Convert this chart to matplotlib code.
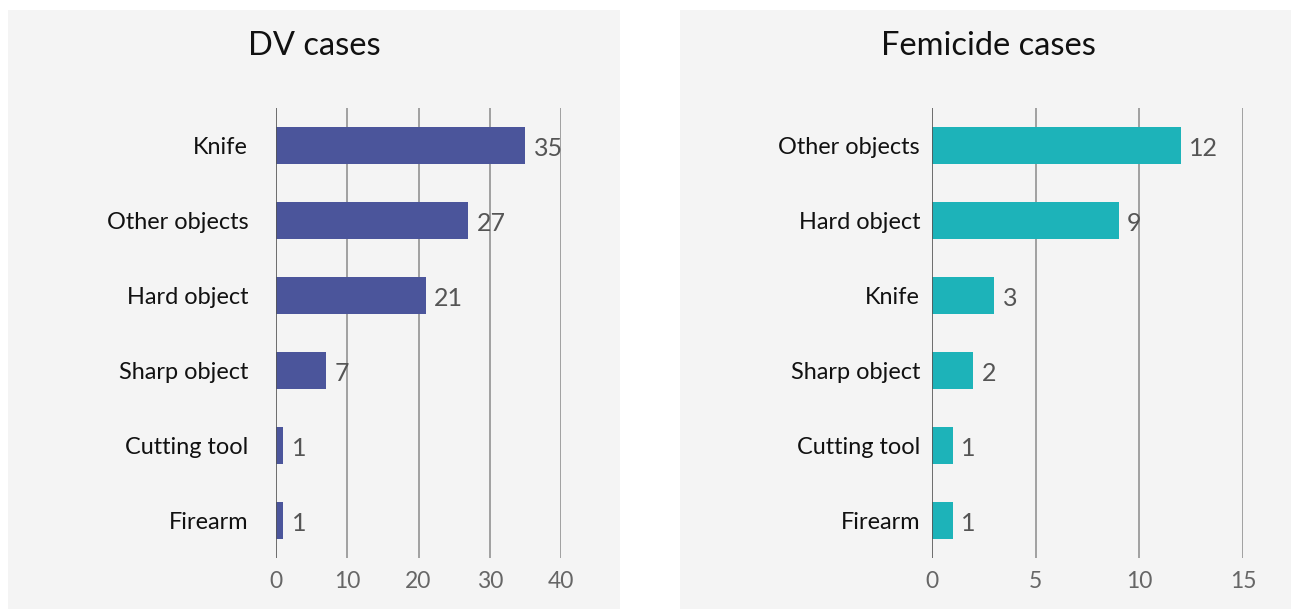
import matplotlib
matplotlib.use('Agg')
import matplotlib.pyplot as plt
from matplotlib.patches import Rectangle

# Data
dv_labels = ['Knife', 'Other objects', 'Hard object', 'Sharp object', 'Cutting tool', 'Firearm']
dv_values = [35, 27, 21, 7, 1, 1]
fem_labels = ['Other objects', 'Hard object', 'Knife', 'Sharp object', 'Cutting tool', 'Firearm']
fem_values = [12, 9, 3, 2, 1, 1]
dv_ticks = [0, 10, 20, 30, 40]
fem_ticks = [0, 5, 10, 15]

plt.rcParams['font.family'] = ['Lato', 'DejaVu Sans']

W, H = 1291, 609
fig = plt.figure(figsize=(W / 100, H / 100), dpi=100)
fig.patch.set_facecolor('white')

# Gray panels behind each chart
bg = '#f4f4f4'
for x0, x1 in [(8, 620), (680, 1291)]:
    fig.patches.append(Rectangle((x0 / W, 0), (x1 - x0) / W, (H - 10) / H,
                                 transform=fig.transFigure, facecolor=bg,
                                 edgecolor='none', zorder=-5))


def draw(ax, labels, values, ticks, color, title, cx, ypad):
    pos = list(range(len(labels)))
    ax.set_facecolor('none')
    ax.set_zorder(2)
    ax.barh(pos, values, height=0.5, color=color, zorder=3)
    ax.set_ylim(len(labels) - 0.5, -0.5)
    ax.set_xlim(ticks[0], ticks[-1])
    ax.set_yticks(pos)
    ax.set_yticklabels(labels, fontsize=16.9, color='#111111')
    ax.set_xticks(ticks)
    ax.set_xticklabels([str(t) for t in ticks], fontsize=16.5, color='#666666')
    ax.tick_params(axis='both', length=0)
    ax.tick_params(axis='y', pad=ypad)
    ax.tick_params(axis='x', pad=9)
    for s in ax.spines.values():
        s.set_visible(False)
    for t in ticks[1:]:
        ax.axvline(t, color='#a0a0a0', lw=1.4, zorder=1)
    ax.axvline(0, color='#555555', lw=1.2, zorder=4)
    for p, v in zip(pos, values):
        ax.annotate(str(v), (v, p), xytext=(6, -2), textcoords='offset points',
                    ha='left', va='center', fontsize=18, color='#555555')
    fig.text(cx / W, 1 - 46 / H, title, ha='center', va='center',
             fontsize=23.5, color='#111111')


ax1 = fig.add_axes([276 / W, 1 - 558 / H, 285 / W, 450 / H])
draw(ax1, dv_labels, dv_values, dv_ticks, '#4b559b', 'DV cases', 314, 20)

ax2 = fig.add_axes([932 / W, 1 - 558 / H, 311 / W, 450 / H])
draw(ax2, fem_labels, fem_values, fem_ticks, '#1db3b9', 'Femicide cases', 988, 8.6)

fig.savefig('out.png', dpi=100, facecolor=fig.get_facecolor())
